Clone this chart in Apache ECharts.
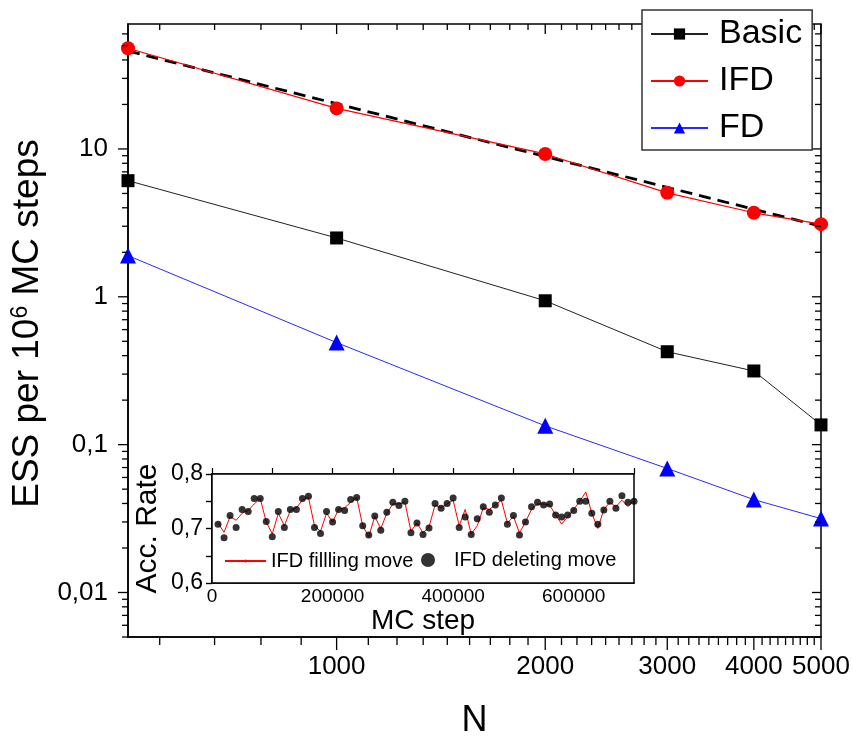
<!DOCTYPE html>
<html>
<head>
<meta charset="utf-8">
<script src="https://cdn.jsdelivr.net/npm/echarts@6/dist/echarts.min.js"></script>
<style>html,body{margin:0;padding:0;background:#fff}#c{width:853px;height:745px}</style>
</head>
<body>
<div id="c"></div>
<script>
// ---- main chart data ----
const N = [500, 1000, 2000, 3000, 4000, 5000];
const basicESS = [6.1, 2.5, 0.94, 0.425, 0.315, 0.136];
const ifdESS = [48, 18.8, 9.25, 5.05, 3.7, 3.1];
const fdESS = [1.9, 0.49, 0.134, 0.069, 0.0425, 0.0316];
const fitN = [500, 5000];
const fitESS = [46, 3.0];
const xTickLabels = [1000, 2000, 3000, 4000, 5000];
const yTickLabels = [0.01, 0.1, 1, 10];

// ---- inset data ----
const mcStep = [10000,20000,30000,40000,50000,60000,70000,80000,90000,100000,
110000,120000,130000,140000,150000,160000,170000,180000,190000,200000,
210000,220000,230000,240000,250000,260000,270000,280000,290000,300000,
310000,320000,330000,340000,350000,360000,370000,380000,390000,400000,
410000,420000,430000,440000,450000,460000,470000,480000,490000,500000,
510000,520000,530000,540000,550000,560000,570000,580000,590000,600000,
610000,620000,630000,640000,650000,660000,670000,680000,690000,700000];
const fillRate = [0.710,0.693,0.722,0.715,0.728,0.733,0.745,0.755,0.712,0.690,
0.728,0.705,0.733,0.738,0.752,0.757,0.705,0.695,0.728,0.712,
0.735,0.738,0.748,0.757,0.705,0.685,0.722,0.700,0.728,0.745,
0.745,0.748,0.695,0.710,0.692,0.703,0.743,0.738,0.745,0.752,
0.705,0.735,0.690,0.705,0.738,0.735,0.743,0.752,0.710,0.722,
0.692,0.712,0.735,0.745,0.745,0.743,0.725,0.708,0.722,0.735,
0.750,0.767,0.728,0.700,0.735,0.748,0.740,0.752,0.740,0.752];
const deleteRate = [0.708,0.683,0.724,0.702,0.735,0.731,0.755,0.755,0.713,0.685,
0.731,0.702,0.735,0.735,0.755,0.759,0.702,0.691,0.731,0.712,
0.735,0.733,0.753,0.757,0.705,0.688,0.723,0.697,0.730,0.748,
0.742,0.750,0.692,0.710,0.689,0.701,0.746,0.737,0.746,0.756,
0.702,0.721,0.689,0.718,0.740,0.730,0.743,0.756,0.708,0.724,
0.688,0.712,0.740,0.748,0.743,0.745,0.725,0.721,0.725,0.733,
0.750,0.750,0.728,0.708,0.734,0.750,0.737,0.760,0.748,0.750];

// axis ranges
const xMin = 500, xMax = 5000, yMin = 0.005, yMax = 70;

// minor tick positions (axis decoration)
const xMinorTicks = [];
for (let k = 5; k <= 44; k++) { if (k % 9 !== 0) xMinorTicks.push(k * 1000 / 9); }
const yMinorTicks = [];
[0.001, 0.01, 0.1, 1, 10].forEach(d => { for (let m = 2; m <= 9; m++) { const v = m * d; if (v > yMin * 0.999 && v < yMax) yMinorTicks.push(v); } });

const SANS = "'Liberation Sans',Arial,sans-serif";

const pair = (xs, ys) => xs.map((x, i) => [x, ys[i]]);

const xTickData = xTickLabels.map(v => [v, yMin, 1]).concat(xMinorTicks.map(v => [v, yMin, 0]));
const yTickData = yTickLabels.map(v => [xMin, v, 1]).concat(yMinorTicks.map(v => [xMin, v, 0]));
const tickStyle = { stroke: '#000', lineWidth: 1.3 };

function fmtY(v) {
  if (v >= 1) return String(Math.round(v));
  return String(parseFloat(v.toPrecision(1))).replace('.', ',');
}

const chart = echarts.init(document.getElementById('c'), null, { renderer: 'canvas' });
chart.setOption({
  animation: false,
  backgroundColor: '#fff',
  textStyle: { fontFamily: SANS, color: '#000' },
  grid: [
    { left: 128, right: 32, top: 24, bottom: 108, show: true, borderColor: '#000', borderWidth: 1.5, backgroundColor: 'transparent', outerBoundsMode: 'none', containLabel: false },
    { left: 212, right: 219, top: 474, bottom: 162, show: true, borderColor: '#000', borderWidth: 1.5, backgroundColor: '#fff', outerBoundsMode: 'none', containLabel: false, z: 5 }
  ],
  legend: [
    {
      data: ['Basic', 'IFD', 'FD'], orient: 'vertical', left: 642, top: 10,
      padding: [7, 10, 5, 8], itemWidth: 57, itemHeight: 14, itemGap: 13,
      backgroundColor: '#fff', borderColor: '#333', borderWidth: 1.5,
      textStyle: { fontSize: 34, fontFamily: SANS, color: '#000', padding: [0, 0, 0, 6] },
      selectedMode: false, z: 10
    },
    {
      data: ['IFD fillling move'], left: 224, top: 551, padding: 0, itemWidth: 41, itemHeight: 4,
      textStyle: { fontSize: 20, fontFamily: SANS, color: '#000' }, selectedMode: false, z: 10
    },
    {
      data: ['IFD deleting move'], left: 421, top: 550, padding: 0, itemWidth: 14, itemHeight: 14,
      textStyle: { fontSize: 20, fontFamily: SANS, color: '#000', padding: [0, 0, 0, 14] }, selectedMode: false, z: 10
    }
  ],
  xAxis: [
    {
      type: 'log', logBase: 10, gridIndex: 0, min: xMin, max: xMax,
      axisLine: { show: true, lineStyle: { color: '#000', width: 1.5 } },
      axisTick: { show: false }, splitLine: { show: false }, minorTick: { show: false },
      axisLabel: { customValues: xTickLabels, formatter: v => String(Math.round(v)), fontSize: 26, fontFamily: SANS, color: '#000', margin: 17 },
      name: 'N', nameLocation: 'middle', nameGap: 66,
      nameTextStyle: { fontSize: 36, fontFamily: SANS, color: '#000' }
    },
    {
      type: 'value', gridIndex: 1, min: 0, max: 700000, interval: 100000, position: 'bottom',
      axisLine: { lineStyle: { color: '#000', width: 1.5 } },
      axisTick: { show: true, inside: true, length: 6, lineStyle: { color: '#000', width: 1.2 } },
      splitLine: { show: false },
      axisLabel: { formatter: v => (v % 200000 === 0 ? String(v) : ''), fontSize: 19, fontFamily: SANS, color: '#000', margin: 4, showMaxLabel: false },
      name: 'MC step', nameLocation: 'middle', nameGap: 17,
      nameTextStyle: { fontSize: 28, fontFamily: SANS, color: '#000' }
    },
    {
      type: 'value', gridIndex: 1, min: 0, max: 700000, interval: 100000, position: 'top',
      axisLine: { lineStyle: { color: '#000', width: 1.5 } },
      axisTick: { show: true, inside: false, length: 6, lineStyle: { color: '#000', width: 1.2 } },
      splitLine: { show: false }, axisLabel: { show: false }
    }
  ],
  yAxis: [
    {
      type: 'log', logBase: 10, gridIndex: 0, min: yMin, max: yMax,
      axisLine: { show: true, lineStyle: { color: '#000', width: 1.5 } },
      axisTick: { show: false }, splitLine: { show: false }, minorTick: { show: false },
      axisLabel: { formatter: fmtY, showMinLabel: false, showMaxLabel: false, fontSize: 26, fontFamily: SANS, color: '#000', margin: 20 },
      name: 'ESS per 10{sup|6} MC steps', nameLocation: 'middle', nameGap: 82, nameRotate: 90,
      nameTextStyle: { fontSize: 37, fontFamily: SANS, color: '#000', padding: [0, 0, 0, 14], rich: { sup: { fontSize: 23, fontFamily: SANS, verticalAlign: 'top', padding: [0, 0, 12, 0] } } }
    },
    {
      type: 'value', gridIndex: 1, min: 0.6, max: 0.8, interval: 0.05, position: 'left',
      axisLine: { lineStyle: { color: '#000', width: 1.5 } },
      axisTick: { show: true, inside: false, length: 6, lineStyle: { color: '#000', width: 1.2 } },
      splitLine: { show: false },
      axisLabel: { formatter: v => (Math.abs(v * 10 - Math.round(v * 10)) < 1e-6 ? v.toFixed(1).replace('.', ',') : ''), fontSize: 23, fontFamily: SANS, color: '#000', margin: 9 },
      name: 'Acc. Rate', nameLocation: 'middle', nameGap: 49, nameRotate: 90,
      nameTextStyle: { fontSize: 30, fontFamily: SANS, color: '#000' }
    },
    {
      type: 'value', gridIndex: 1, min: 0.6, max: 0.8, interval: 0.05, position: 'right',
      axisLine: { lineStyle: { color: '#000', width: 1.5 } },
      axisTick: { show: true, inside: true, length: 6, lineStyle: { color: '#000', width: 1.2 } },
      splitLine: { show: false }, axisLabel: { show: false }
    }
  ],
  series: [
    {
      name: 'fit', type: 'line', xAxisIndex: 0, yAxisIndex: 0, data: pair(fitN, fitESS),
      symbol: 'none', lineStyle: { color: '#000', width: 2.8, type: [12, 7] }, z: 2, silent: true
    },
    {
      name: 'Basic', type: 'line', xAxisIndex: 0, yAxisIndex: 0, data: pair(N, basicESS),
      symbol: 'rect', symbolSize: 13, itemStyle: { color: '#000' }, lineStyle: { color: '#222', width: 1 }, z: 3
    },
    {
      name: 'IFD', type: 'line', xAxisIndex: 0, yAxisIndex: 0, data: pair(N, ifdESS),
      symbol: 'circle', symbolSize: 14, itemStyle: { color: '#ff0000' }, lineStyle: { color: '#ff0000', width: 1.2 }, z: 3
    },
    {
      name: 'FD', type: 'line', xAxisIndex: 0, yAxisIndex: 0, data: pair(N, fdESS),
      symbol: 'triangle', symbolSize: 16, itemStyle: { color: '#0000ff' }, lineStyle: { color: '#2a2aff', width: 1 }, z: 3
    },
    {
      name: 'xticks', type: 'custom', xAxisIndex: 0, yAxisIndex: 0, data: xTickData, clip: false, silent: true, z: 4,
      renderItem: function (params, api) {
        const v = api.value(0), major = api.value(2) === 1;
        const b = api.coord([v, yMin]), t = api.coord([v, yMax]);
        const lb = major ? 13 : 8, lt = major ? 10 : 6;
        return { type: 'group', children: [
          { type: 'line', shape: { x1: b[0], y1: b[1], x2: b[0], y2: b[1] + lb }, style: tickStyle },
          { type: 'line', shape: { x1: t[0], y1: t[1], x2: t[0], y2: t[1] + lt }, style: tickStyle }
        ] };
      }
    },
    {
      name: 'yticks', type: 'custom', xAxisIndex: 0, yAxisIndex: 0, data: yTickData, clip: false, silent: true, z: 4,
      renderItem: function (params, api) {
        const v = api.value(1), major = api.value(2) === 1;
        const l = api.coord([xMin, v]), r = api.coord([xMax, v]);
        const ll = major ? 10 : 6, lr = major ? 9 : 6;
        return { type: 'group', children: [
          { type: 'line', shape: { x1: l[0], y1: l[1], x2: l[0] - ll, y2: l[1] }, style: tickStyle },
          { type: 'line', shape: { x1: r[0], y1: r[1], x2: r[0] - lr, y2: r[1] }, style: tickStyle }
        ] };
      }
    },
    {
      name: 'IFD fillling move', type: 'line', xAxisIndex: 1, yAxisIndex: 1, data: pair(mcStep, fillRate),
      symbol: 'none', lineStyle: { color: '#ff0000', width: 1 }, itemStyle: { color: '#ff0000' }, z: 6
    },
    {
      name: 'IFD deleting move', type: 'scatter', xAxisIndex: 1, yAxisIndex: 1, data: pair(mcStep, deleteRate),
      symbol: 'circle', symbolSize: 7, itemStyle: { color: '#000' }, z: 7
    }
  ]
});
</script>
</body>
</html>
